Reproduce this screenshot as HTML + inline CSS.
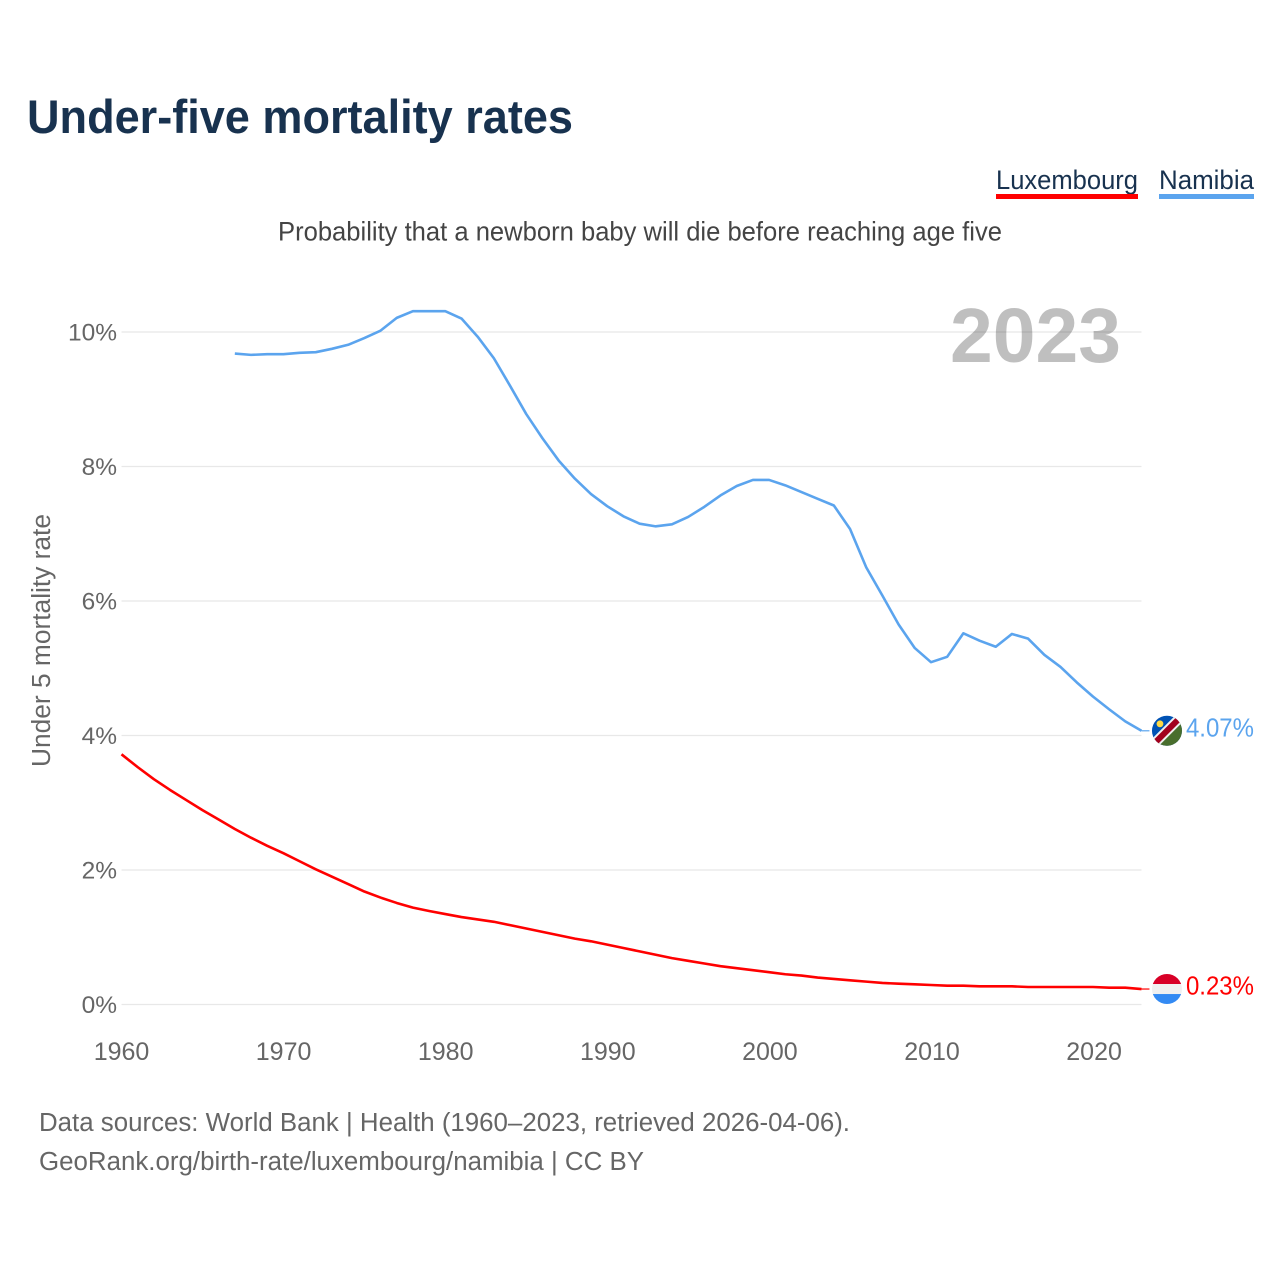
<!DOCTYPE html>
<html lang="en">
<head>
<meta charset="utf-8">
<title>Under-five mortality rates</title>
<style>
html,body{margin:0;padding:0;background:#fff;width:1280px;height:1280px;overflow:hidden}
svg{display:block;font-family:"Liberation Sans",sans-serif}
</style>
</head>
<body>
<svg id="chart" width="1280" height="1280" viewBox="0 0 1280 1280">
  <text x="27" y="133" font-size="47" font-weight="700" fill="#18324f" textLength="546" lengthAdjust="spacingAndGlyphs">Under-five mortality rates</text>
  <text x="996" y="189" font-size="26.5" fill="#18324f" textLength="142" lengthAdjust="spacingAndGlyphs">Luxembourg</text>
  <rect x="996" y="194" width="142" height="5" fill="#ff0000"/>
  <text x="1159" y="189" font-size="26.5" fill="#18324f" textLength="95" lengthAdjust="spacingAndGlyphs">Namibia</text>
  <rect x="1159" y="194" width="95" height="5" fill="#5ba4ee"/>
  <text x="278" y="240.5" font-size="26.5" fill="#444444" textLength="724" lengthAdjust="spacingAndGlyphs">Probability that a newborn baby will die before reaching age five</text>
  <g id="grid"></g>
  <g id="yticks"></g>
  <g id="xticks"></g>
  <text transform="translate(50,640.5) rotate(-90)" text-anchor="middle" font-size="25.5" fill="#666666" textLength="253" lengthAdjust="spacingAndGlyphs">Under 5 mortality rate</text>
  <text x="950" y="362" font-size="77" font-weight="700" fill="#000000" fill-opacity="0.25" textLength="171" lengthAdjust="spacingAndGlyphs">2023</text>
  <path id="line-namibia" fill="none" stroke="#5ba4ee" stroke-width="2.6" stroke-linejoin="round"/>
  <path id="line-luxembourg" fill="none" stroke="#ff0000" stroke-width="2.6" stroke-linejoin="round"/>
  <g id="end-namibia">
    <line id="leader-namibia" stroke="#5ba4ee" stroke-width="1.2"/>
    <g id="flag-namibia">
      <clipPath id="clip-na"><circle cx="0" cy="0" r="15"/></clipPath>
      <g clip-path="url(#clip-na)">
        <rect x="-16" y="-16" width="32" height="32" fill="#0052b4"/>
        <polygon points="16,-16 16,16 -16,16" fill="#496e2d"/>
        <polygon points="-23,16 16,-23 23,-16 -16,23" fill="#f0f0f0"/>
        <polygon points="-20.2,16 16,-20.2 20.2,-16 -16,20.2" fill="#a2001d"/>
        <circle cx="-7" cy="-7" r="3.4" fill="#ffda44"/>
      </g>
    </g>
    <text id="label-namibia" font-size="25.5" fill="#5ba4ee" textLength="68" lengthAdjust="spacingAndGlyphs"></text>
  </g>
  <g id="end-luxembourg">
    <line id="leader-luxembourg" stroke="#ff0000" stroke-width="1.2"/>
    <g id="flag-luxembourg">
      <clipPath id="clip-lu"><circle cx="0" cy="0" r="15"/></clipPath>
      <g clip-path="url(#clip-lu)">
        <rect x="-16" y="-16" width="32" height="11" fill="#d80027"/>
        <rect x="-16" y="-5" width="32" height="10" fill="#f0f0f0"/>
        <rect x="-16" y="5" width="32" height="11" fill="#338af3"/>
      </g>
    </g>
    <text id="label-luxembourg" font-size="25.5" fill="#ff0000" textLength="68" lengthAdjust="spacingAndGlyphs"></text>
  </g>
  <text x="39" y="1131" font-size="25.5" fill="#666666" textLength="811" lengthAdjust="spacingAndGlyphs">Data sources: World Bank | Health (1960–2023, retrieved 2026-04-06).</text>
  <text x="39" y="1170" font-size="25.5" fill="#666666" textLength="605" lengthAdjust="spacingAndGlyphs">GeoRank.org/birth-rate/luxembourg/namibia | CC BY</text>
</svg>
<script>
const yTickValues = [0, 2, 4, 6, 8, 10];
const xTickYears = [1960, 1970, 1980, 1990, 2000, 2010, 2020];
const luxembourgStartYear = 1960;
const luxembourgValues = [3.72,3.53,3.35,3.19,3.04,2.89,2.75,2.61,2.48,2.36,2.25,2.13,2.01,1.90,1.79,1.68,1.59,1.51,1.44,1.39,1.345,1.30,1.265,1.23,1.18,1.13,1.08,1.03,0.98,0.94,0.89,0.84,0.79,0.74,0.69,0.65,0.61,0.57,0.54,0.51,0.48,0.45,0.43,0.40,0.38,0.36,0.34,0.32,0.31,0.30,0.29,0.28,0.28,0.27,0.27,0.27,0.26,0.26,0.26,0.26,0.26,0.25,0.25,0.23];
const namibiaStartYear = 1967;
const namibiaValues = [9.68,9.66,9.67,9.67,9.69,9.70,9.75,9.81,9.91,10.02,10.21,10.31,10.31,10.31,10.20,9.93,9.61,9.20,8.78,8.42,8.09,7.82,7.59,7.41,7.26,7.15,7.11,7.14,7.25,7.40,7.57,7.71,7.80,7.80,7.72,7.62,7.52,7.42,7.07,6.50,6.08,5.65,5.30,5.09,5.17,5.52,5.41,5.32,5.51,5.44,5.20,5.02,4.79,4.58,4.39,4.21,4.07];

const NS = 'http://www.w3.org/2000/svg';
function xScale(year) { return 121.5 + (year - 1960) * 16.19; }
function xTickScale(year) { return 121.5 + (year - 1960) * 16.21; }
function yScale(v) { return 1004.5 - v * 67.25; }
function linePath(start, values) {
  return values.map(function (v, i) {
    return (i ? 'L' : 'M') + xScale(start + i).toFixed(2) + ' ' + yScale(v).toFixed(2);
  }).join(' ');
}

const grid = document.getElementById('grid');
const yticks = document.getElementById('yticks');
const xticks = document.getElementById('xticks');

yTickValues.forEach(function (v) {
  const l = document.createElementNS(NS, 'line');
  
  
  l.setAttribute('x1', xScale(1960));
  l.setAttribute('x2', xScale(2023));
  l.setAttribute('y1', yScale(v));
  l.setAttribute('y2', yScale(v));
  l.setAttribute('stroke', '#e8e8e8');
  l.setAttribute('stroke-width', '1.3');
  grid.appendChild(l);
  const t = document.createElementNS(NS, 'text');
  
  
  t.setAttribute('x', 117);
  t.setAttribute('y', yScale(v) + 8.5);
  t.setAttribute('text-anchor', 'end');
  t.setAttribute('font-size', '24.5');
  t.setAttribute('fill', '#666666');
  t.textContent = v + '%';
  yticks.appendChild(t);
});

xTickYears.forEach(function (y) {
  const t = document.createElementNS(NS, 'text');
  
  
  t.setAttribute('x', xTickScale(y));
  t.setAttribute('y', 1060);
  t.setAttribute('text-anchor', 'middle');
  t.setAttribute('font-size', '25');
  t.setAttribute('fill', '#666666');
  t.textContent = y;
  xticks.appendChild(t);
});

document.getElementById('line-namibia').setAttribute('d', linePath(namibiaStartYear, namibiaValues));
document.getElementById('line-luxembourg').setAttribute('d', linePath(luxembourgStartYear, luxembourgValues));

function placeEnd(key, values) {
  const last = values[values.length - 1];
  const x = xScale(2023);
  const y = yScale(last);
  const leader = document.getElementById('leader-' + key);
  leader.setAttribute('x1', x);
  leader.setAttribute('x2', x + 8);
  leader.setAttribute('y1', y);
  leader.setAttribute('y2', y);
  document.getElementById('flag-' + key).setAttribute('transform', 'translate(' + (x + 25.5) + ',' + y + ')');
  const lab = document.getElementById('label-' + key);
  lab.setAttribute('x', x + 44.5);
  lab.setAttribute('y', y + 5.5);
  lab.textContent = last.toFixed(2) + '%';
}
placeEnd('namibia', namibiaValues);
placeEnd('luxembourg', luxembourgValues);
</script>
</body>
</html>
